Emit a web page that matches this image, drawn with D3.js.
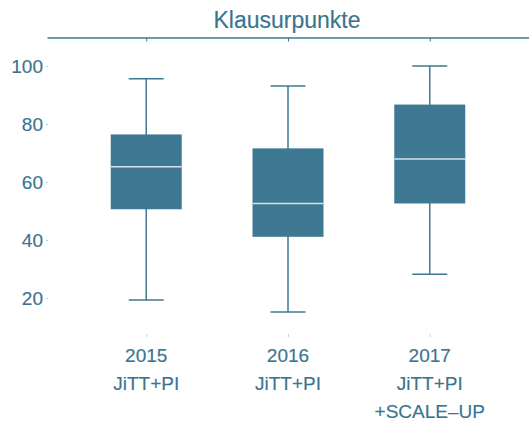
<!DOCTYPE html>
<html>
<head>
<meta charset="utf-8">
<script src="https://cdn.jsdelivr.net/npm/d3@7"></script>
<style>
  body { margin: 0; background: #fff; }
  svg { display: block; font-family: "Liberation Sans", Arial, sans-serif; }
  text { stroke: #3a7490; stroke-width: 0.15px; }
</style>
</head>
<body>
<div id="chart"></div>
<script>
const groups = ["2015", "2016", "2017"];
const groupLabels = [["2015", "JiTT+PI"], ["2016", "JiTT+PI"], ["2017", "JiTT+PI", "+SCALE\u2013UP"]];
const whiskerLow = [19.3, 15.2, 28.2];
const q1 = [50.6, 41.1, 52.6];
const median = [65.3, 52.6, 67.9];
const q3 = [76.4, 71.6, 86.7];
const whiskerHigh = [95.6, 93.1, 100];
const yTicks = [20, 40, 60, 80, 100];

const w = 529;
const h = 422;
const color = "#3f7892";
const textColor = "#3a7490";

const svg = d3
  .select("#chart")
  .append("svg")
  .attr("width", w)
  .attr("height", h);

const xScale = d3.scalePoint().domain(groups).range([47, 529]).padding(0.7);
const yScale = d3.scaleLinear().domain([20, 100]).range([298, 66]);
const boxW = 71;
const capW = 35;

// title + top line
svg
  .append("text")
  .attr("x", 287)
  .attr("y", 28)
  .attr("text-anchor", "middle")
  .style("font-size", "23px")
  .style("fill", textColor)
  .text("Klausurpunkte");

const topAxis = svg
  .append("g")
  .attr("transform", "translate(0,37.5)")
  .call(d3.axisBottom(xScale).tickSize(4).tickSizeOuter(0).tickFormat(""));
topAxis.select(".domain").attr("stroke", color).attr("stroke-width", 1.5);
topAxis.selectAll(".tick line").attr("stroke", color);

// y axis
const yAxis = svg
  .append("g")
  .attr("transform", "translate(48,0)")
  .call(d3.axisLeft(yScale).tickValues(yTicks).tickSize(2).tickPadding(3));
yAxis.select(".domain").remove();
yAxis.selectAll(".tick line").attr("stroke", "#b9cdd7");
yAxis
  .selectAll(".tick text")
  .style("font-size", "19px")
  .style("fill", textColor)
  .attr("dy", "0.36em");

// x axis
const xAxis = svg
  .append("g")
  .attr("transform", "translate(0,334)")
  .call(d3.axisBottom(xScale).tickSize(3).tickFormat(""));
xAxis.select(".domain").remove();
xAxis.selectAll(".tick line").attr("stroke", "#c4d5de");

const labels = svg
  .selectAll(".xlabel")
  .data(groups)
  .enter()
  .append("text")
  .attr("class", "xlabel")
  .attr("text-anchor", "middle")
  .attr("x", (d) => xScale(d))
  .attr("y", 362)
  .style("font-size", "19px")
  .style("fill", textColor);
labels
  .selectAll("tspan")
  .data((d, i) => groupLabels[i])
  .enter()
  .append("tspan")
  .attr("x", function () { return this.parentNode.getAttribute("x"); })
  .attr("dy", (d, i) => (i === 0 ? 0 : 28))
  .text((d) => d);

// boxes
const box = svg
  .selectAll(".box")
  .data(groups)
  .enter()
  .append("g")
  .attr("class", "box");

box
  .append("line")
  .attr("x1", (d) => xScale(d))
  .attr("x2", (d) => xScale(d))
  .attr("y1", (d, i) => yScale(whiskerLow[i]))
  .attr("y2", (d, i) => yScale(whiskerHigh[i]))
  .attr("stroke", color)
  .attr("stroke-width", 1.5);

[whiskerLow, whiskerHigh].forEach((arr) => {
  box
    .append("line")
    .attr("x1", (d) => xScale(d) - capW / 2)
    .attr("x2", (d) => xScale(d) + capW / 2)
    .attr("y1", (d, i) => yScale(arr[i]))
    .attr("y2", (d, i) => yScale(arr[i]))
    .attr("stroke", color)
    .attr("stroke-width", 1.5);
});

box
  .append("rect")
  .attr("x", (d) => xScale(d) - boxW / 2)
  .attr("y", (d, i) => yScale(q3[i]))
  .attr("width", boxW)
  .attr("height", (d, i) => yScale(q1[i]) - yScale(q3[i]))
  .attr("fill", color);

box
  .append("line")
  .attr("x1", (d) => xScale(d) - boxW / 2)
  .attr("x2", (d) => xScale(d) + boxW / 2)
  .attr("y1", (d, i) => yScale(median[i]))
  .attr("y2", (d, i) => yScale(median[i]))
  .attr("stroke", "#d3e2ea")
  .attr("stroke-width", 1.5);
</script>
</body>
</html>
